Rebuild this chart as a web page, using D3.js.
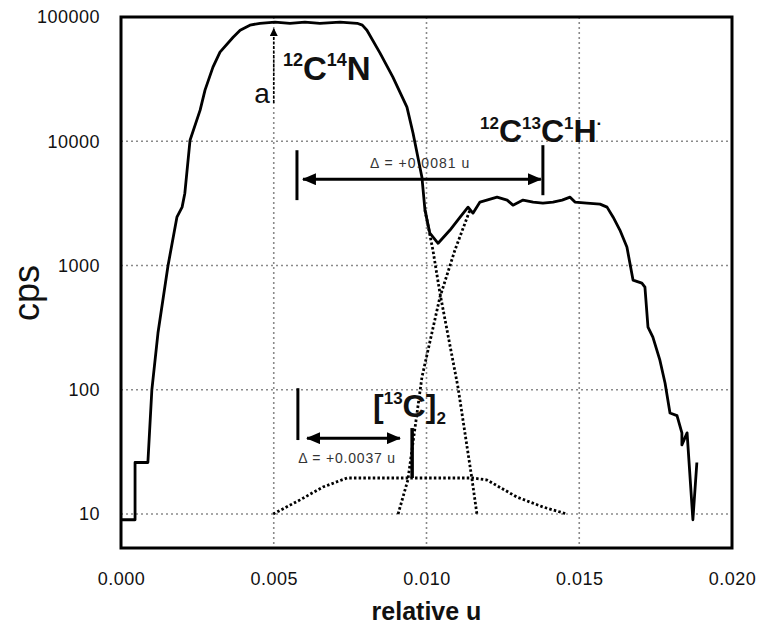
<!DOCTYPE html>
<html><head><meta charset="utf-8">
<script src="https://cdn.jsdelivr.net/npm/d3@7"></script>
<style>
body{margin:0;background:#fff}
svg{display:block}
text{font-family:"Liberation Sans",Arial,Helvetica,sans-serif}
</style>
</head><body>
<svg id="chart" width="762" height="633"></svg>
<script>
// ---- axis ticks ----
const xTicks = [0, 0.005, 0.010, 0.015, 0.020];
const xTickLabels = ["0.000", "0.005", "0.010", "0.015", "0.020"];
const yTicks = [10, 100, 1000, 10000, 100000];
const yTickLabels = ["10", "100", "1000", "10000", "100000"];
const gridX = [0.005, 0.010, 0.015];
const gridY = [10, 100, 1000, 10000];

// ---- measured trace (solid) ----
const mainU = [0.00003,0.00046,0.00046,0.00088,0.00101,0.00121,0.00154,0.00183,0.00200,0.00209,0.00226,0.00259,0.00275,0.00301,0.00324,0.00367,0.00390,0.00422,0.00455,0.00504,0.00553,0.00602,0.00651,0.00717,0.00773,0.00790,0.00805,0.00848,0.00890,0.00936,0.00956,0.00985,0.00995,0.01011,0.01038,0.01077,0.01110,0.01136,0.01152,0.01175,0.01231,0.01264,0.01283,0.01316,0.01349,0.01381,0.01414,0.01444,0.01470,0.01486,0.01525,0.01568,0.01591,0.01611,0.01633,0.01656,0.01676,0.01705,0.01715,0.01725,0.01741,0.01764,0.01781,0.01797,0.01820,0.01836,0.01836,0.01853,0.01872,0.01885];
const mainCps = [9,9,26,26,100,286,1000,2450,2950,3820,10200,17800,25800,39500,52100,68700,78300,85900,89000,91000,89000,91000,89000,91000,89000,86000,78300,51200,32800,18800,11600,5140,2790,1820,1510,1930,2450,2950,2640,3240,3550,3360,3060,3360,3240,3180,3240,3360,3550,3240,3180,3120,2950,2450,1930,1410,763,721,670,319,265,173,113,65,62,45,36,45,9,26];

// ---- fitted components (dotted) ----
const cnTailU = [0.00995,0.01021,0.01044,0.01103,0.01149,0.01165];
const cnTailCps = [2790,1330,600,105,19,10];
const chRiseU = [0.00907,0.00939,0.00985,0.01044,0.01093,0.01142];
const chRiseCps = [10,18.8,126,557,1330,2790];
const c2U = [0.00498,0.00586,0.00661,0.00740,0.00936,0.01152,0.01198,0.01296,0.01381,0.01460];
const c2Cps = [10,13,16.5,19.5,19.5,19.5,18.8,13.7,11.4,10];

// ---- annotations (data units) ----
const bigDelta = {u0:0.00576, u1:0.01381, arrowCps:4950, barLeft:[3360,8470], barRight:[3680,9300], text:"Δ = +0.0081 u", textU:0.00979, textCps:6080};
const smallDelta = {u0:0.00579, u1:0.00953, a0:0.00609, a1:0.00913, arrowCps:40.8, barLeft:[39.4,103], barRight:[19.5,49.2], text:"Δ = +0.0037 u", textU:0.0074, textCps:25.7};
const aArrow = {u:0.005, fromCps:20300, toCps:80000};

const L = 121, R = 732, T = 17, B = 548;
const svg = d3.select("#chart");
const x = d3.scaleLinear().domain([0, 0.020]).range([L, R]);
const y = d3.scaleLog().domain([5.33, 100000]).range([B, T]);

const defs = svg.append("defs");
defs.append("marker").attr("id","ah").attr("viewBox","0 0 14 12").attr("refX",13).attr("refY",6)
  .attr("markerWidth",14).attr("markerHeight",12).attr("markerUnits","userSpaceOnUse")
  .attr("orient","auto-start-reverse")
  .append("path").attr("d","M0,0 L14,6 L0,12 Z").attr("fill","#000");
defs.append("marker").attr("id","ahs").attr("viewBox","0 0 8 8").attr("refX",7).attr("refY",4)
  .attr("markerWidth",8).attr("markerHeight",8).attr("markerUnits","userSpaceOnUse")
  .attr("orient","auto")
  .append("path").attr("d","M0,0 L8,4 L0,8 Z").attr("fill","#000");

// grid
const grid = svg.append("g");
grid.selectAll("line.gy").data(gridY).join("line")
  .attr("x1",L).attr("x2",R).attr("y1",d=>y(d)).attr("y2",d=>y(d))
  .attr("stroke","#8a8a8a").attr("stroke-width",1.6).attr("stroke-dasharray","2,3");
grid.selectAll("line.gx").data(gridX).join("line")
  .attr("y1",T).attr("y2",B).attr("x1",d=>x(d)).attr("x2",d=>x(d))
  .attr("stroke","#8a8a8a").attr("stroke-width",1.6).attr("stroke-dasharray","2,3");

// axes (labels only)
const xAxis = d3.axisBottom(x).tickValues(xTicks).tickFormat((d,i)=>xTickLabels[i]).tickSize(0).tickPadding(24);
const gx = svg.append("g").attr("transform",`translate(0,${B})`).call(xAxis);
gx.select(".domain").remove();
gx.selectAll("text").attr("font-size",18).attr("letter-spacing",0.5).attr("fill","#111").style("font-family","'Liberation Sans',Arial,sans-serif");

const yAxis = d3.axisLeft(y).tickValues(yTicks).tickFormat((d,i)=>yTickLabels[i]).tickSize(0).tickPadding(21);
const gy = svg.append("g").attr("transform",`translate(${L},0)`).call(yAxis);
gy.select(".domain").remove();
gy.selectAll("text").attr("font-size",18).attr("letter-spacing",0.5).attr("fill","#111").style("font-family","'Liberation Sans',Arial,sans-serif");

// axis titles
svg.append("text").attr("x",(L+R)/2).attr("y",620).attr("text-anchor","middle")
  .attr("font-size",25).attr("font-weight","bold").attr("fill","#111").text("relative u");
svg.append("text").attr("transform",`translate(39,293) rotate(-90)`).attr("text-anchor","middle")
  .attr("font-size",36).attr("fill","#111").text("cps");

// lines
const line = d3.line().x(d=>x(d[0])).y(d=>y(d[1]));
const zip = (a,b)=>a.map((v,i)=>[v,b[i]]);
const dotted = [zip(cnTailU,cnTailCps), zip(chRiseU,chRiseCps), zip(c2U,c2Cps)];
svg.append("g").selectAll("path").data(dotted).join("path")
  .attr("d",line).attr("fill","none").attr("stroke","#000").attr("stroke-width",2.8)
  .attr("stroke-dasharray","2.5,2.2");
svg.append("path").attr("d",line(zip(mainU,mainCps))).attr("fill","none")
  .attr("stroke","#000").attr("stroke-width",2.8).attr("stroke-linejoin","round");

// frame
svg.append("rect").attr("x",L).attr("y",T).attr("width",R-L).attr("height",B-T)
  .attr("fill","none").attr("stroke","#000").attr("stroke-width",3);

// "a" arrow
svg.append("line").attr("x1",x(aArrow.u)).attr("x2",x(aArrow.u))
  .attr("y1",y(aArrow.fromCps)).attr("y2",y(aArrow.toCps))
  .attr("stroke","#000").attr("stroke-width",1.6).attr("stroke-dasharray","3,1.5").attr("marker-end","url(#ahs)");
svg.append("text").attr("x",x(aArrow.u)-4).attr("y",y(aArrow.fromCps)).attr("text-anchor","end")
  .attr("font-size",28).attr("fill","#111").text("a");

// big delta
const ann = svg.append("g").attr("stroke","#000");
ann.append("line").attr("x1",x(bigDelta.u0)).attr("x2",x(bigDelta.u0)).attr("y1",y(bigDelta.barLeft[0])).attr("y2",y(bigDelta.barLeft[1])).attr("stroke-width",3);
ann.append("line").attr("x1",x(bigDelta.u1)).attr("x2",x(bigDelta.u1)).attr("y1",y(bigDelta.barRight[0])).attr("y2",y(bigDelta.barRight[1])).attr("stroke-width",3);
ann.append("line").attr("x1",x(bigDelta.u0)+6).attr("x2",x(bigDelta.u1)-2).attr("y1",y(bigDelta.arrowCps)).attr("y2",y(bigDelta.arrowCps))
  .attr("stroke-width",3).attr("marker-start","url(#ah)").attr("marker-end","url(#ah)");
svg.append("text").attr("x",x(bigDelta.textU)).attr("y",y(bigDelta.textCps)).attr("text-anchor","middle")
  .attr("font-size",14).attr("letter-spacing",1).attr("fill","#333").text(bigDelta.text);

// small delta
ann.append("line").attr("x1",x(smallDelta.u0)).attr("x2",x(smallDelta.u0)).attr("y1",y(smallDelta.barLeft[0])).attr("y2",y(smallDelta.barLeft[1])).attr("stroke-width",3);
ann.append("line").attr("x1",x(smallDelta.u1)).attr("x2",x(smallDelta.u1)).attr("y1",y(smallDelta.barRight[0])).attr("y2",y(smallDelta.barRight[1])).attr("stroke-width",3.5);
ann.append("line").attr("x1",x(smallDelta.a0)).attr("x2",x(smallDelta.a1)).attr("y1",y(smallDelta.arrowCps)).attr("y2",y(smallDelta.arrowCps))
  .attr("stroke-width",3).attr("marker-start","url(#ah)").attr("marker-end","url(#ah)");
svg.append("text").attr("x",x(smallDelta.textU)).attr("y",y(smallDelta.textCps)).attr("text-anchor","middle")
  .attr("font-size",14).attr("letter-spacing",0.8).attr("fill","#333").text(smallDelta.text);

// species labels
function label(u, cps, parts, big, small){
  const t = svg.append("text").attr("x",x(u)).attr("y",y(cps)).attr("font-weight","bold").attr("fill","#111");
  let prev = "n";
  const off = {n:0, sup:-big*0.42, sub:big*0.22};
  parts.forEach(p=>{
    const kind = p[1];
    t.append("tspan").text(p[0]).attr("dy", off[kind]-off[prev]).attr("font-size", kind==="n"?big:small);
    prev = kind;
  });
}
label(0.0053, 31000, [["12","sup"],["C","n"],["14","sup"],["N","n"]], 33, 18);
label(0.01175, 9840, [["12","sup"],["C","n"],["13","sup"],["C","n"],["1","sup"],["H","n"],["·","sup"]], 32, 17);
label(0.00825, 60, [["[","n"],["13","sup"],["C","n"],["]","n"],["2","sub"]], 32, 17);
</script>
</body></html>
